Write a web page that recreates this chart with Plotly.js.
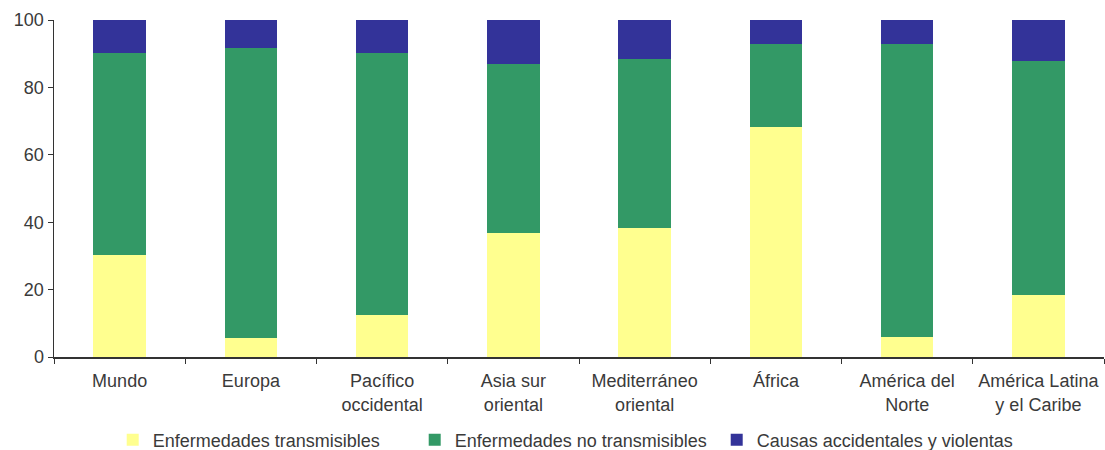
<!DOCTYPE html>
<html>
<head>
<meta charset="utf-8">
<script src="https://cdn.plot.ly/plotly-3.0.1.min.js"></script>
<style>html,body{margin:0;padding:0;background:#fff;}#chart{width:1105px;height:450px;}</style>
</head>
<body>
<div id="chart"></div>
<script>
const regiones = ["Mundo", "Europa", "Pacífico<br>occidental", "Asia sur<br>oriental", "Mediterráneo<br>oriental", "África", "América del<br>Norte", "América Latina<br>y el Caribe"];
const transmisibles = [30.3, 5.5, 12.5, 36.8, 38.3, 68.2, 5.9, 18.4];
const noTransmisibles = [59.9, 86.1, 77.7, 50.1, 50.1, 24.7, 87.0, 69.4];
const accidentales = [9.8, 8.4, 9.8, 13.1, 11.6, 7.1, 7.1, 12.2];
const nombresSeries = ["Enfermedades transmisibles", "Enfermedades no transmisibles", "Causas accidentales y violentas"];
const yTicks = [0, 20, 40, 60, 80, 100];

const colores = ["#FFFF8F", "#339966", "#333399"];
const series = [transmisibles, noTransmisibles, accidentales];
const traces = series.map((vals, i) => ({
  type: "bar",
  x: regiones,
  y: vals,
  name: nombresSeries[i],
  marker: {color: colores[i], line: {width: 0}},
  width: 0.4,
  hoverinfo: "skip"
}));

const font = {family: "Liberation Sans, Arial, sans-serif", size: 18, color: "#3a3a3a"};
const layout = {
  width: 1105, height: 450,
  barmode: "stack",
  margin: {l: 54, r: 1, t: 20, b: 93, autoexpand: false},
  paper_bgcolor: "#fff", plot_bgcolor: "#fff",
  font: font,
  showlegend: true,
  xaxis: {
    type: "category",
    showline: true, linecolor: "#333", linewidth: 1.5,
    ticks: "outside", ticklen: 5, tickcolor: "#333",
    tickson: "boundaries",
    ticklabelstandoff: 7,
    showgrid: false, zeroline: false,
    automargin: false,
    tickfont: font
  },
  yaxis: {
    range: [0, 100],
    tickvals: yTicks,
    showline: true, linecolor: "#333", linewidth: 1.5,
    ticks: "outside", ticklen: 5, tickcolor: "#333",
    showgrid: false, zeroline: false,
    automargin: false,
    tickfont: font
  },
  legend: {
    orientation: "h",
    xref: "container", yref: "container",
    x: 0.102, xanchor: "left",
    y: 0.022, yanchor: "middle",
    font: font,
    traceorder: "normal",
    itemwidth: 30,
    entrywidth: 257
  }
};
Plotly.newPlot("chart", traces, layout, {displayModeBar: false, staticPlot: true});
</script>
</body>
</html>
